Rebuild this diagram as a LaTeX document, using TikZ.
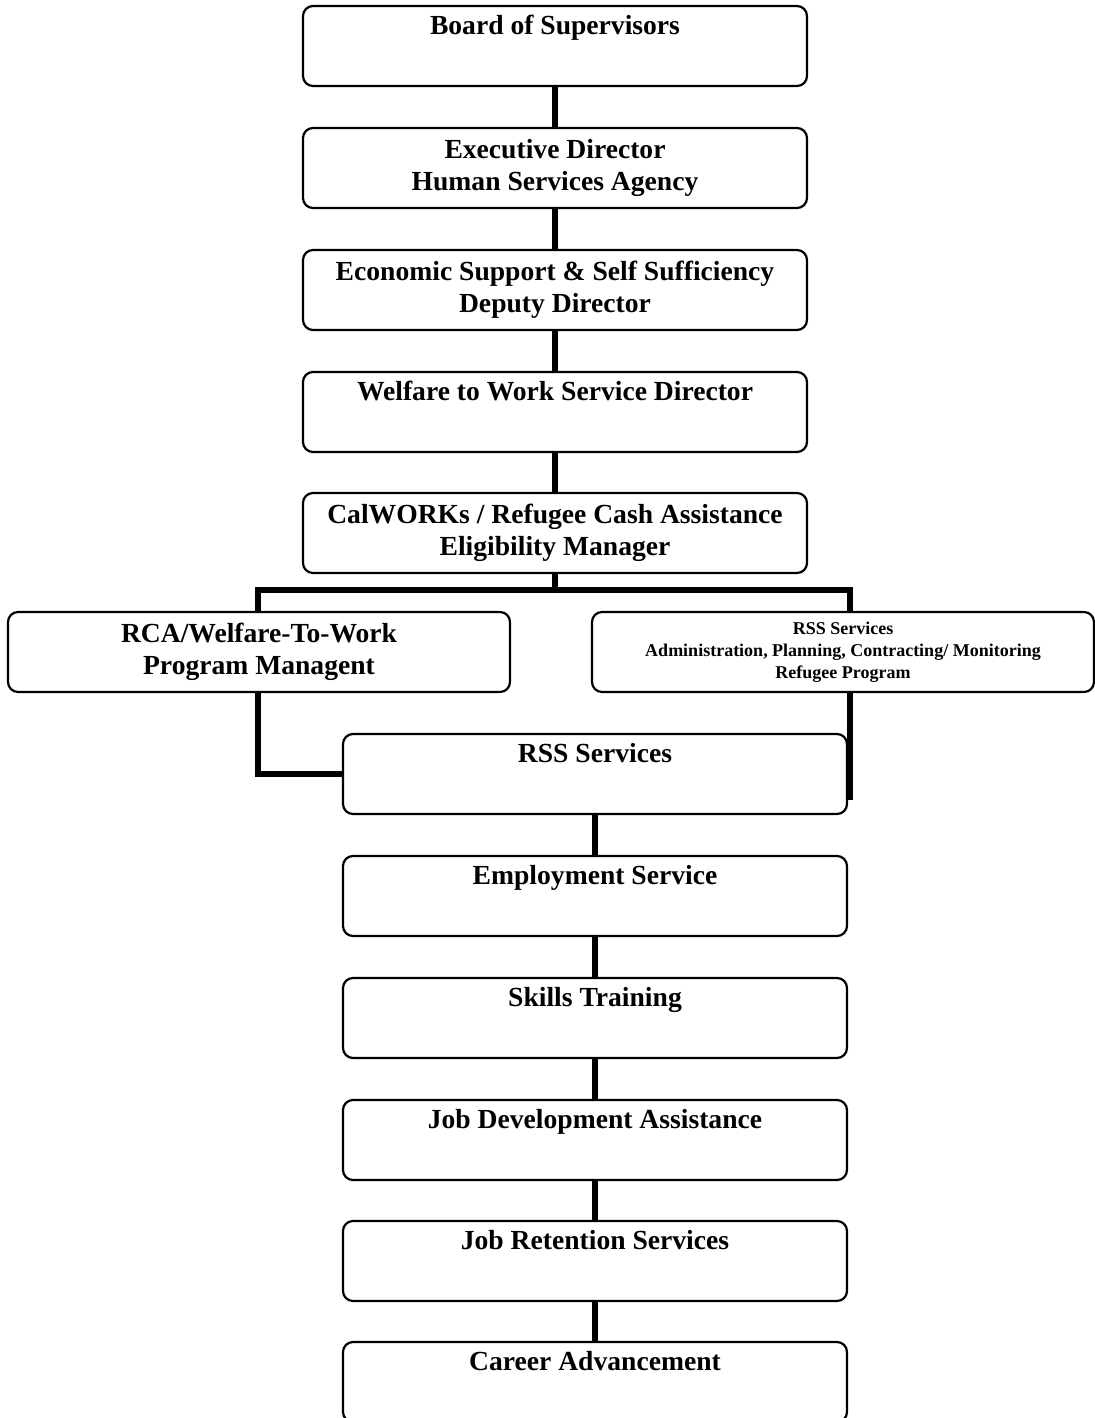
\documentclass[tikz,border=0pt]{standalone}
\usepackage{fontspec}
\setmainfont{Liberation Serif}
\begin{document}
\begin{tikzpicture}[x=0.5pt,y=-0.5pt,
  unit/.style={draw, line width=1.1pt, rounded corners=5pt, fill=white, minimum width=252pt, minimum height=40pt, align=center, inner sep=2pt, font=\fontsize{13.8}{16}\selectfont\bfseries},
  small/.style={font=\fontsize{9}{11}\selectfont\bfseries},
  link/.style={line width=3pt}]
\useasboundingbox (0,0) rectangle (1094,1418);
% main chain
\node[unit] (board) at (555,46) {Board of Supervisors\\\strut};
\node[unit] (exec) at (555,168) {Executive Director\\Human Services Agency};
\node[unit] (econ) at (555,290) {Economic Support \& Self Sufficiency\\Deputy Director};
\node[unit] (wtw) at (555,412) {Welfare to Work Service Director\\\strut};
\node[unit] (cal) at (555,533) {CalWORKs / Refugee Cash Assistance\\Eligibility Manager};
% the two branches
\node[unit, minimum width=251pt] (rca) at (259,652) {RCA/Welfare-To-Work\\Program Managent};
\node[unit, small, minimum width=251pt] (admin) at (843,652) {RSS Services\\Administration, Planning, Contracting/ Monitoring\\Refugee Program};
% services
\node[unit] (rss) at (595,774) {RSS Services\\\strut};
\node[unit] (emp) at (595,896) {Employment Service\\\strut};
\node[unit] (skill) at (595,1018) {Skills Training\\\strut};
\node[unit] (jobdev) at (595,1140) {Job Development Assistance\\\strut};
\node[unit] (jobret) at (595,1261) {Job Retention Services\\\strut};
\node[unit] (career) at (595,1382) {Career Advancement\\\strut};
\coordinate (splitL) at (258,590);
\coordinate (splitR) at (850,590);
\draw[link] (board) -- (exec);
\draw[link] (exec) -- (econ);
\draw[link] (econ) -- (wtw);
\draw[link] (wtw) -- (cal);
\draw[link] (cal.south) -- (cal.south |- splitL);
\draw[link] (rca.north -| splitL) -- (splitL) -- (splitR) -- (admin.north -| splitR);
\draw[link] (rca.south -| splitL) |- (rss.west);
\draw[link] (admin.south -| splitR) -- ([yshift=-13pt]rss.east -| splitR);
\draw[link] (rss) -- (emp);
\draw[link] (emp) -- (skill);
\draw[link] (skill) -- (jobdev);
\draw[link] (jobdev) -- (jobret);
\draw[link] (jobret) -- (career);
\end{tikzpicture}
\end{document}
